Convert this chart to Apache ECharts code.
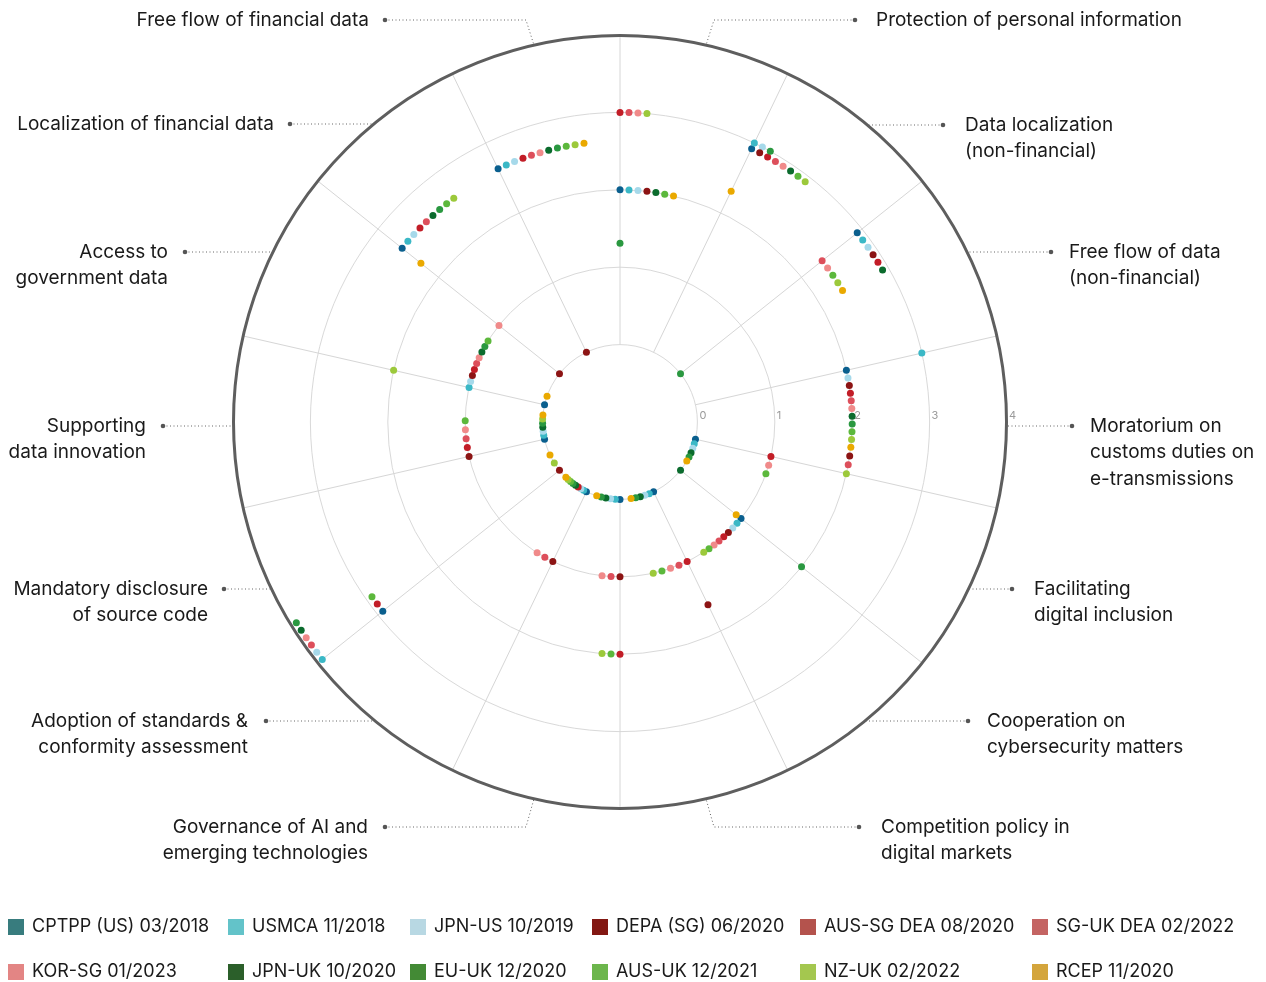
<!DOCTYPE html>
<html><head><meta charset="utf-8">
<script src="https://cdn.jsdelivr.net/npm/echarts/dist/echarts.min.js"></script>
<style>html,body{margin:0;padding:0;background:#fff}#chart{width:1266px;height:982px}</style>
</head><body><div id="chart"></div>
<script>
// ---------------- data ----------------
const agreements = ['CPTPP (US) 03/2018','USMCA 11/2018','JPN-US 10/2019','DEPA (SG) 06/2020','AUS-SG DEA 08/2020','SG-UK DEA 02/2022','KOR-SG 01/2023','JPN-UK 10/2020','EU-UK 12/2020','AUS-UK 12/2021','NZ-UK 02/2022','RCEP 11/2020'];
// clockwise from the top
const categories = ['Free flow of financial data','Protection of personal information','Data localization\n(non-financial)','Free flow of data\n(non-financial)','Moratorium on\ncustoms duties on\ne-transmissions','Facilitating\ndigital inclusion','Cooperation on\ncybersecurity matters','Competition policy in\ndigital markets','Governance of AI and\nemerging technologies','Adoption of standards &\nconformity assessment','Mandatory disclosure\nof source code','Supporting\ndata innovation','Access to\ngovernment data','Localization of financial data'];
// one row per category, one value per agreement (agreements order)
const sFreeFlowFin   = [2.63,2.63,2.63,0,2.63,2.63,2.63,2.63,2.63,2.63,2.63,2.63];
const sProtection    = [2,2,2,2,3,3,3,2,1.31,2,3,2];
const sDataLocal     = [2.92,3,3,2.92,2.92,2.92,2.92,2.92,3,2.92,2.92,2.31];
const sFreeFlowData  = [2.92,2.92,2.92,2.92,2.92,2.34,2.34,2.92,0,2.34,2.34,2.34];
const sMoratorium    = [2,3,2,2,2,2,2,2,2,2,2,2];
const sInclusion     = [0,0,0,2,1,2,1,0,0,1,2,0];
const sCyber         = [1,1,1,1,1,1,1,0,2,1,1,0.92];
const sCompetition   = [0,0,0,1.62,1,1,1,0,0,1,1,0];
const sAI            = [0,0,0,1,2,1,1,0,0,2,2,0];
const sStandards     = [0,0,0,1,0,1,1,0,0,0,0,0];
const sSourceCode    = [2.92,3.92,3.92,0,2.92,3.92,3.92,3.92,3.92,2.92,0,0];
const sInnovation    = [0,0,0,1,1,1,1,0,0,1,0,0];
const sGovData       = [0,1,1,1,1,1,1,1,1,1,2,0];
const sFinLocal      = [2.6,2.6,2.6,0,2.6,2.6,1,2.6,2.6,2.6,2.6,2.29];
const scores = [sFreeFlowFin,sProtection,sDataLocal,sFreeFlowData,sMoratorium,sInclusion,sCyber,sCompetition,sAI,sStandards,sSourceCode,sInnovation,sGovData,sFinLocal];
const radiusTicks = ['0','1','2','3','4'];

// ---------------- style / layout ----------------
const dotColors = ['#0a5f8e','#3bb8c6','#a6d9ea','#8c1414','#c21d27','#dd4f5b','#f08a8a','#0b6b2d','#2a9840','#5cb83c','#9cc93b','#eaa900'];
const swatchColors = ['#387c7e','#63c3c9','#b8d8e3','#821712','#b4534d','#c46463','#e38584','#2b5f2a','#438a35','#6cb64c','#a4c74f','#d4a53c'];
const CX = 620, CY = 422, R0 = 77.4, R1 = 387, ROUT = 386.5;
const SECTOR = 360 / categories.length;
const START = SECTOR / 2;               // angle axis starts at the spoke right of 3 o'clock
const SPOKE0 = 90 + SECTOR;             // spoke where the first category starts
const endAnchored = {'5|2': true};      // this group is drawn ending at its spoke
const FONT = 'Inter, "Liberation Sans", Arial, sans-serif';

function pxRadius(v){ return R0 + (R1 - R0) * v / 4; }
function norm(a){ return ((a % 360) + 360) % 360; }

const seriesData = agreements.map(() => []);
scores.forEach((row, c) => {
  const spoke = SPOKE0 - SECTOR * c;
  const groups = {};
  row.forEach((v, a) => { (groups[v] = groups[v] || []).push(a); });
  Object.keys(groups).forEach(k => {
    const v = +k, members = groups[k], n = members.length;
    const step = Math.min(9.0 / pxRadius(v) * 180 / Math.PI, 21 / n);
    members.forEach((a, i) => {
      const off = endAnchored[c + '|' + v] ? (n - 1 - i) : -i;
      seriesData[a].push([v, norm(spoke + off * step - START)]);
    });
  });
});

// category labels (text anchor, first-line y, dot x)
const labelLayout = [
  {side:'L', x:369, y:20,  dot:385},
  {side:'R', x:876, y:20,  dot:855},
  {side:'R', x:965, y:125, dot:943},
  {side:'R', x:1069,y:252, dot:1051},
  {side:'R', x:1090,y:426, dot:1072},
  {side:'R', x:1034,y:589, dot:1012},
  {side:'R', x:987, y:721, dot:968},
  {side:'R', x:881, y:827, dot:859},
  {side:'L', x:368, y:827, dot:385},
  {side:'L', x:248, y:721, dot:266},
  {side:'L', x:208, y:589, dot:224},
  {side:'L', x:146, y:426, dot:163},
  {side:'L', x:168, y:252, dot:185},
  {side:'L', x:274, y:124, dot:290}
];
const LH = 26.5;
const graphics = [];
categories.forEach((name, c) => {
  const L = labelLayout[c];
  const mid = (SPOKE0 - SECTOR * c - SECTOR / 2) * Math.PI / 180;
  const px = CX + ROUT * Math.cos(mid), py = CY - ROUT * Math.sin(mid);
  let pts;
  const dy = L.y - CY;
  if (Math.abs(dy) < ROUT - 20) {
    const ex = CX + (L.side === 'L' ? -1 : 1) * Math.sqrt(ROUT * ROUT - dy * dy);
    pts = [[L.dot, L.y], [ex, L.y]];
  } else {
    const sgn = L.side === 'L' ? -1 : 1;
    pts = [[L.dot, L.y], [px + sgn * 8, L.y], [px, py]];
  }
  graphics.push({type:'polyline', shape:{points:pts}, style:{stroke:'#666', lineWidth:1, lineDash:[1,2.5], fill:null}, silent:true});
  graphics.push({type:'circle', shape:{cx:L.dot, cy:L.y, r:2.3}, style:{fill:'#555'}, silent:true});
  graphics.push({type:'text', x:L.x, y:L.y - LH / 2, style:{text:name, font:'19px ' + FONT, fill:'#1a1a1a', align:L.side === 'L' ? 'right' : 'left', verticalAlign:'top', lineHeight:LH}, silent:true});
});

// legend: a grid of six columns and two rows
const legendCols = [8, 228, 410, 592, 800, 1032];
const legendRows = [926, 971];
const legends = agreements.map((name, a) => ({
  orient:'horizontal', left:legendCols[a % 6], top:legendRows[Math.floor(a / 6)] - 8, padding:0,
  itemWidth:16, itemHeight:16, icon:'rect', selectedMode:false,
  textStyle:{fontSize:18, fontFamily:FONT, color:'#1a1a1a', padding:[0,0,0,3]},
  data:[{name:name, itemStyle:{color:swatchColors[a]}}]
}));

const chart = echarts.init(document.getElementById('chart'));
chart.setOption({
  animation:false,
  backgroundColor:'#fff',
  legend: legends,
  polar:[
    {center:[CX, CY], radius:[R0, R1]},
    {center:[CX, CY], radius:[R0, R1]},
    {center:[CX, CY], radius:[0, ROUT]}
  ],
  angleAxis:[
    {polarIndex:0, type:'value', min:0, max:360, interval:SECTOR, startAngle:START, clockwise:false,
     axisLine:{show:false}, axisTick:{show:false}, axisLabel:{show:false},
     splitLine:{show:true, lineStyle:{color:'#d6d6d6', width:1}}},
    {polarIndex:1, type:'value', min:0, max:360, startAngle:0, show:false},
    {polarIndex:2, type:'value', min:0, max:360, startAngle:90,
     axisLine:{show:true, lineStyle:{color:'#5e5e5e', width:3}}, axisTick:{show:false}, axisLabel:{show:false}, splitLine:{show:false}}
  ],
  radiusAxis:[
    {polarIndex:0, type:'value', min:0, max:4, interval:1,
     axisLine:{show:false}, axisTick:{show:false}, axisLabel:{show:false},
     splitLine:{show:true, lineStyle:{color:'#d9d9d9', width:1}}},
    {polarIndex:1, type:'value', min:0, max:4, interval:1,
     axisLine:{show:false}, axisTick:{show:false}, splitLine:{show:false},
     axisLabel:{show:true, color:'#9a9a9a', fontSize:11, fontFamily:FONT, margin:1, align:'left', padding:[0,0,0,2],
       formatter:(v) => radiusTicks[Math.round(v)] || ''}},
    {polarIndex:2, type:'value', min:0, max:1, show:false}
  ],
  graphic: graphics,
  series: agreements.map((name, a) => ({
    name:name, type:'scatter', coordinateSystem:'polar', polarIndex:0,
    symbol:'circle', symbolSize:7, itemStyle:{color:dotColors[a], opacity:1},
    data: seriesData[a], z:5
  }))
});
</script></body></html>
